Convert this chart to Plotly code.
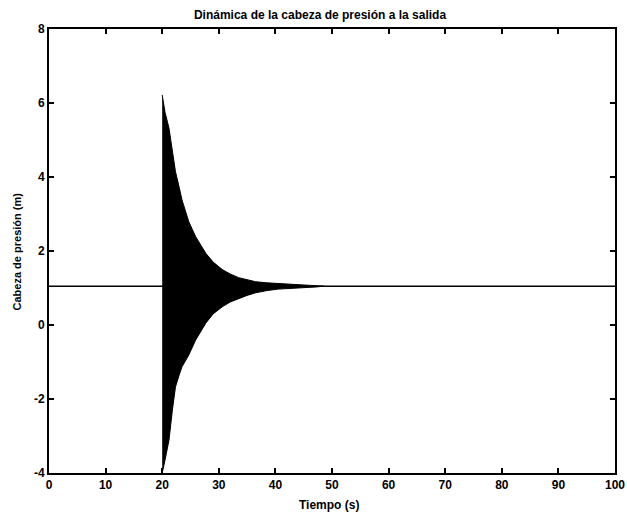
import plotly.graph_objects as go

# Baseline (steady-state pressure head)
t_base = [0, 100]
h_base = [1.05, 1.05]

# Envelope of the oscillation
t_env = [20.0, 20.5, 21.2, 21.8, 22.35, 23.0, 23.5, 24.7, 25.9, 27.7, 29.0, 30.6, 32.0, 33.5, 35.0, 36.5, 38.5, 40.5, 42.5, 44.5, 47.4, 48.5]
upper = [6.22, 5.75, 5.32, 4.70, 4.14, 3.72, 3.38, 2.79, 2.39, 1.94, 1.70, 1.50, 1.38, 1.28, 1.22, 1.17, 1.14, 1.12, 1.10, 1.09, 1.07, 1.05]
lower = [-4.0, -3.65, -3.11, -2.30, -1.67, -1.35, -1.13, -0.81, -0.41, 0.05, 0.30, 0.49, 0.62, 0.72, 0.80, 0.87, 0.93, 0.97, 0.99, 1.01, 1.03, 1.05]

x_tick_vals = [0, 10, 20, 30, 40, 50, 60, 70, 80, 90, 100]
y_tick_vals = [-4, -2, 0, 2, 4, 6, 8]
y_tick_text = ["-4", "-2", "0", "2", "4", "6", "8"]

title_text = "Dinámica de la cabeza de presión a la salida"
x_title = "Tiempo (s)"
y_title = "Cabeza de presión (m)"

fig = go.Figure()

fig.add_trace(go.Scatter(
    x=t_base, y=h_base, mode="lines",
    line=dict(color="black", width=1.5), showlegend=False, hoverinfo="skip"))

poly_x = t_env + t_env[::-1]
poly_y = upper + lower[::-1]
fig.add_trace(go.Scatter(
    x=poly_x, y=poly_y, mode="lines", fill="toself",
    fillcolor="black", line=dict(color="black", width=1),
    showlegend=False, hoverinfo="skip"))

fam = "Liberation Sans, Arial, sans-serif"
tick_font = dict(family=fam, size=12, color="black", weight="bold")
xlab_font = dict(family=fam, size=12, color="black", weight="bold")
ylab_font = dict(family=fam, size=11, color="black", weight="bold")

W, H = 627, 520
fig.update_layout(
    width=W, height=H,
    margin=dict(l=48.5, r=11.5, t=29, b=47),
    paper_bgcolor="white", plot_bgcolor="white",
    title=dict(text=title_text, x=320 / W, xanchor="center", y=1 - 15 / H, yanchor="middle",
               font=dict(family=fam, size=12, color="black", weight="bold")),
    annotations=[
        dict(text=x_title, xref="paper", yref="paper", x=0.495, y=-0.072, xanchor="center",
             yanchor="middle", showarrow=False, font=xlab_font),
        dict(text=y_title, xref="paper", yref="paper", x=-0.0573, y=0.498, xanchor="center",
             yanchor="middle", textangle=-90, showarrow=False, font=ylab_font),
    ],
)
fig.update_xaxes(
    range=[0, 100], tickvals=x_tick_vals, showgrid=False, zeroline=False,
    showline=True, linecolor="black", linewidth=2, mirror="ticks",
    ticks="inside", ticklen=5, tickwidth=1.5, tickcolor="black",
    tickfont=tick_font, automargin=False, ticklabeloverflow="allow",
)
fig.update_yaxes(
    range=[-4, 8], tickvals=y_tick_vals, ticktext=y_tick_text, showgrid=False, zeroline=False,
    showline=True, linecolor="black", linewidth=2, mirror="ticks",
    ticks="inside", ticklen=5, tickwidth=1.5, tickcolor="black",
    tickfont=tick_font, automargin=False, ticklabeloverflow="allow",
)

fig.write_html(
    "out.html",
    config={"displayModeBar": False},
    post_script="document.body.style.margin='0';document.body.style.overflow='hidden';",
)
